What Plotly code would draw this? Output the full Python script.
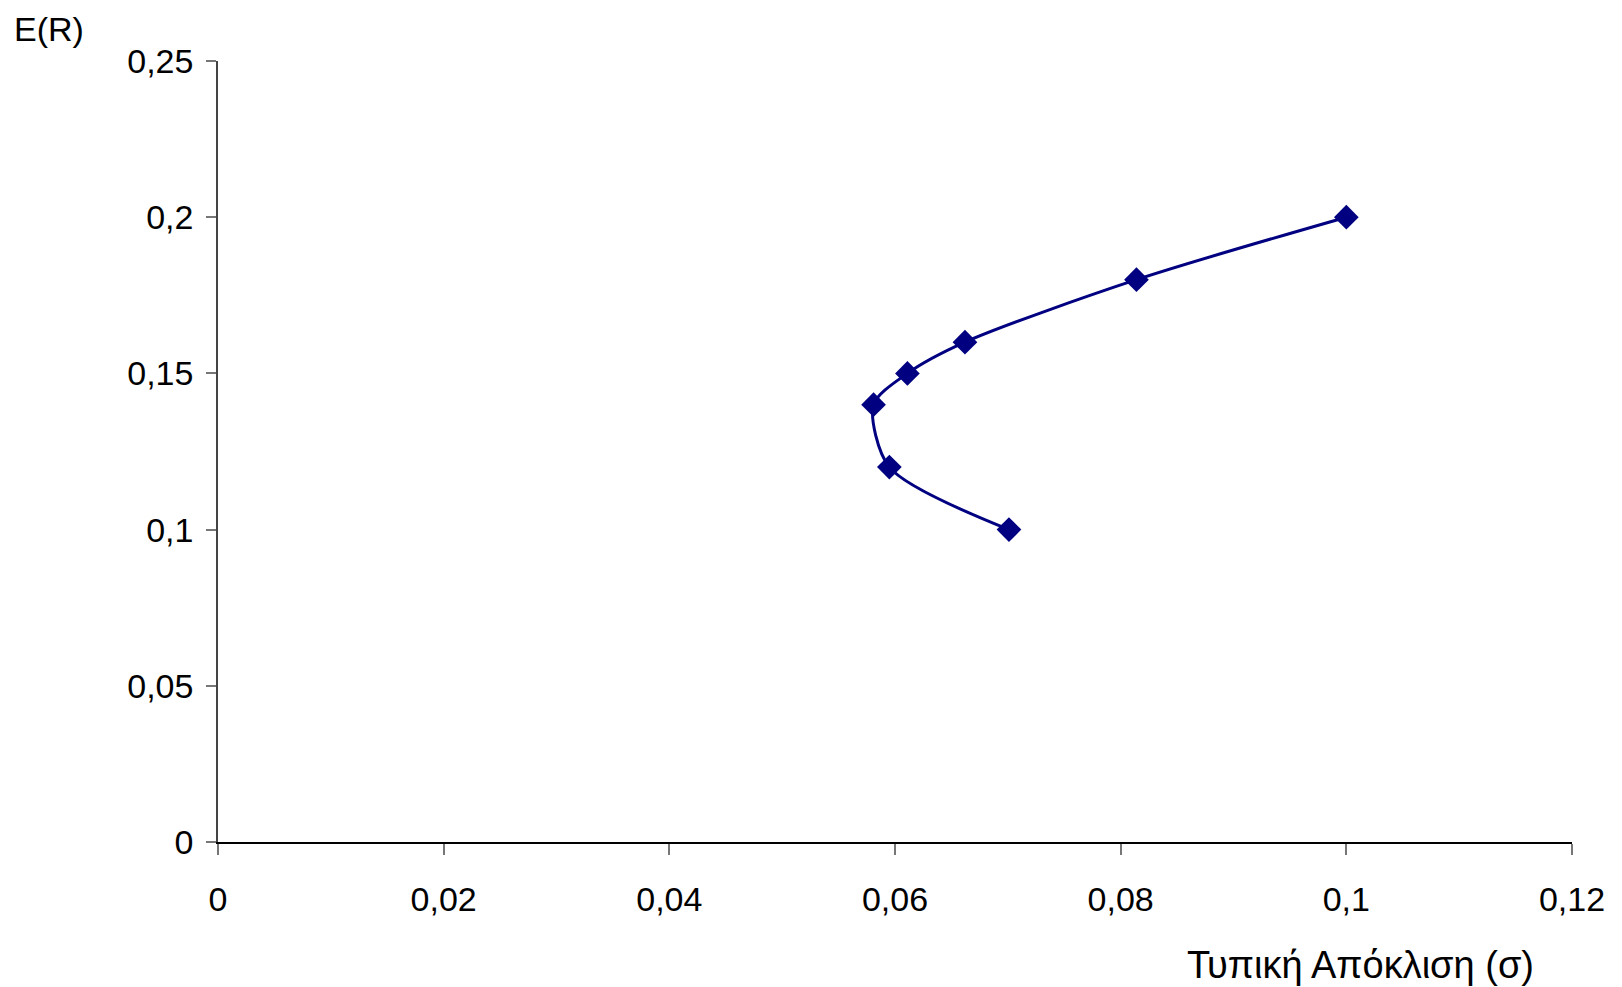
import plotly.graph_objects as go

sigma = [0.0701, 0.0595, 0.0581, 0.0611, 0.0662, 0.0814, 0.1000]
er = [0.10, 0.12, 0.14, 0.15, 0.16, 0.18, 0.20]

x_ticks = [0, 0.02, 0.04, 0.06, 0.08, 0.1, 0.12]
x_labels = ["0", "0,02", "0,04", "0,06", "0,08", "0,1", "0,12"]
y_ticks = [0, 0.05, 0.1, 0.15, 0.2, 0.25]
y_labels = ["0", "0,05", "0,1", "0,15", "0,2", "0,25"]

navy = "#000080"
font = "Liberation Sans, Arial, sans-serif"

fig = go.Figure()
fig.add_trace(go.Scatter(
    x=sigma, y=er, mode="lines+markers",
    line=dict(color=navy, width=3, shape="spline", smoothing=0.8),
    marker=dict(symbol="diamond", size=19, color=navy),
    showlegend=False,
))

fig.update_layout(
    width=1622, height=987,
    margin=dict(l=218, r=50, t=61, b=145),
    paper_bgcolor="white", plot_bgcolor="white",
    font=dict(family=font, size=34, color="black"),
)
fig.update_xaxes(
    range=[0, 0.12], tickvals=x_ticks, ticktext=x_labels,
    showgrid=False, zeroline=False,
    showline=True, linecolor="black", linewidth=1.5,
    ticks="outside", ticklen=11, tickcolor="#777777", tickwidth=1.5,
    ticklabelstandoff=15,
)
fig.update_yaxes(
    range=[0, 0.25], tickvals=y_ticks, ticktext=y_labels,
    showgrid=False, zeroline=False,
    showline=True, linecolor="#444444", linewidth=1.5,
    ticks="outside", ticklen=10, tickcolor="#777777", tickwidth=1.5,
    ticklabelstandoff=6,
)
fig.add_annotation(text="E(R)", xref="paper", yref="paper",
                   x=(12 - 218) / 1354, y=1 + (61 - 29) / 781,
                   xanchor="left", yanchor="middle", showarrow=False,
                   font=dict(size=34, family=font))
fig.add_annotation(text="Τυπική Απόκλιση (σ)", xref="paper", yref="paper",
                   x=(1360 - 218) / 1354, y=-(965 - 842) / 781,
                   xanchor="center", yanchor="middle", showarrow=False,
                   font=dict(size=38, family=font))

fig.write_html("out.html")
